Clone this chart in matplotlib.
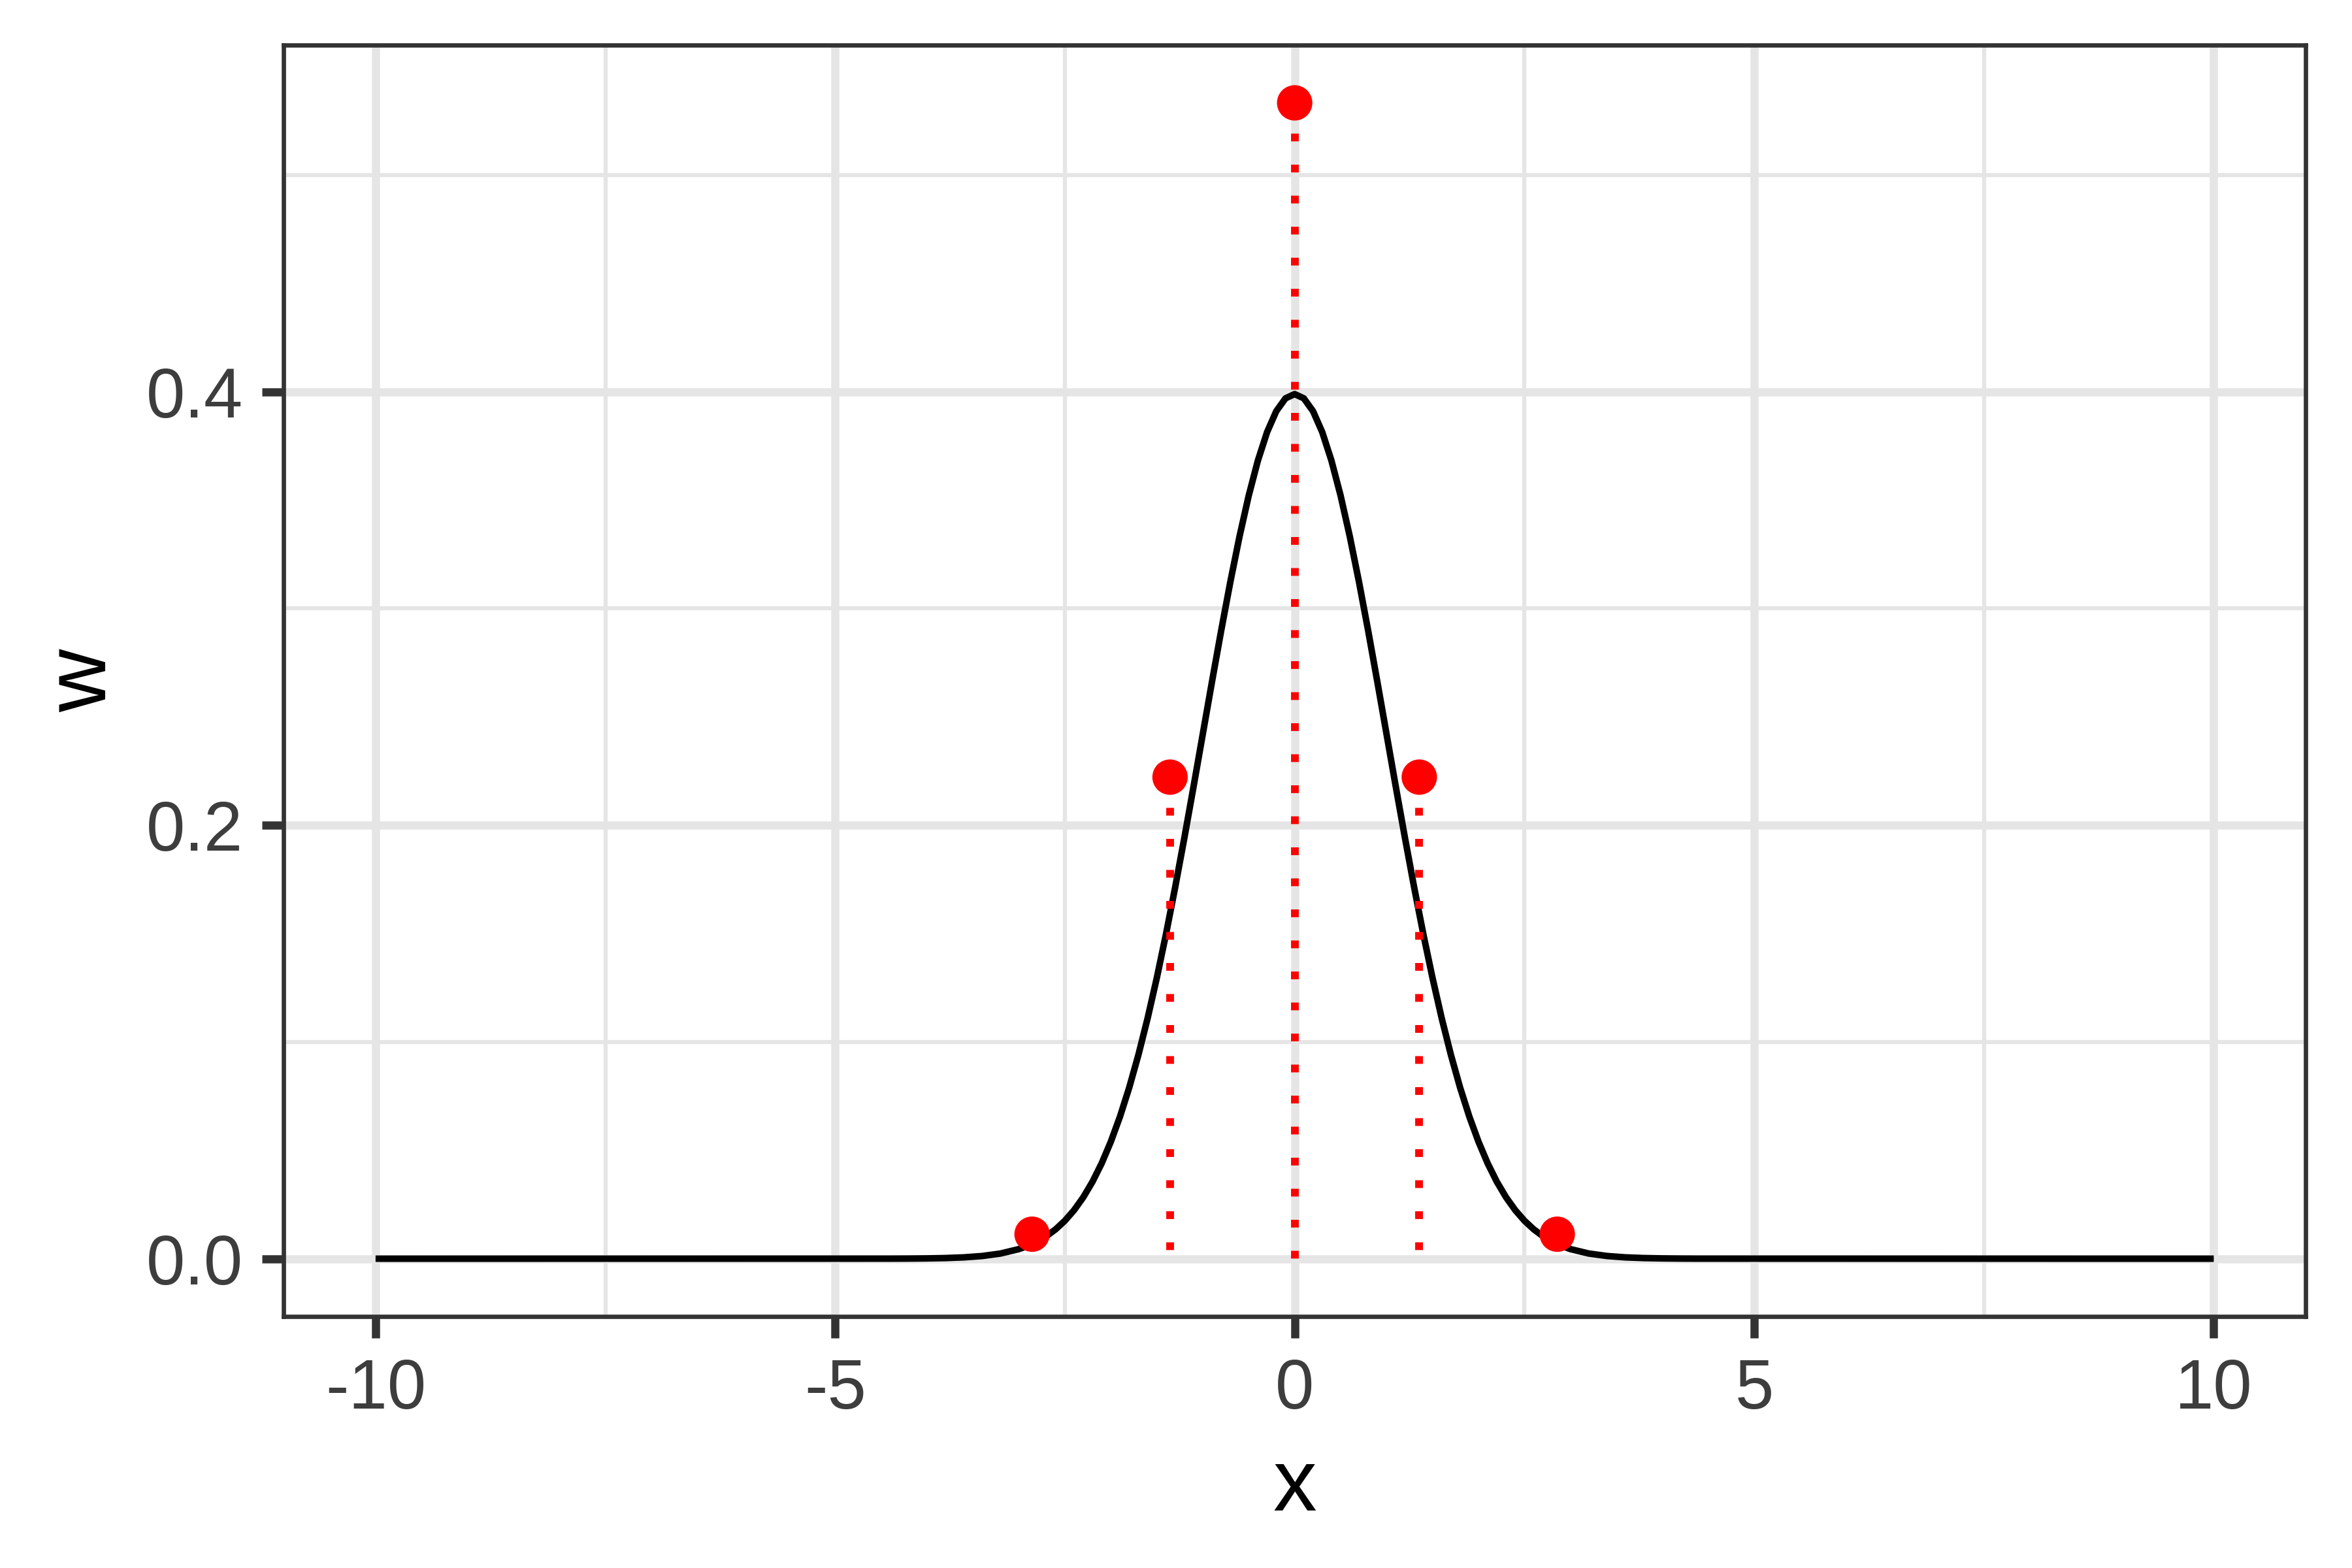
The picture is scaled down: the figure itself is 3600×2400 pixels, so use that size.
import matplotlib
matplotlib.use("Agg")
import matplotlib.pyplot as plt
from matplotlib.ticker import FixedLocator

# Curve values (standard normal density)
curve_x = [-10.0, -4.4, -4.2, -4.0, -3.8, -3.6, -3.4, -3.2,
           -3.0, -2.9, -2.8, -2.7, -2.6, -2.5, -2.4, -2.3, -2.2, -2.1,
           -2.0, -1.9, -1.8, -1.7, -1.6, -1.5, -1.4, -1.3, -1.2, -1.1,
           -1.0, -0.9, -0.8, -0.7, -0.6, -0.5, -0.4, -0.3, -0.2, -0.1,
           0.0,
           0.1, 0.2, 0.3, 0.4, 0.5, 0.6, 0.7, 0.8, 0.9, 1.0,
           1.1, 1.2, 1.3, 1.4, 1.5, 1.6, 1.7, 1.8, 1.9, 2.0,
           2.1, 2.2, 2.3, 2.4, 2.5, 2.6, 2.7, 2.8, 2.9, 3.0,
           3.2, 3.4, 3.6, 3.8, 4.0, 4.2, 4.4, 10.0]
curve_y = [0.0, 0.000025, 0.000059, 0.000134, 0.000292, 0.000612, 0.001232, 0.002384,
           0.004432, 0.005953, 0.007915, 0.010421, 0.013583, 0.017528, 0.022395,
           0.028327, 0.035475, 0.043984, 0.053991, 0.065616, 0.078950, 0.094049,
           0.110921, 0.129518, 0.149727, 0.171369, 0.194186, 0.217852, 0.241971,
           0.266085, 0.289692, 0.312254, 0.333225, 0.352065, 0.368270, 0.381388,
           0.391043, 0.396953,
           0.398942,
           0.396953, 0.391043, 0.381388, 0.368270, 0.352065, 0.333225, 0.312254,
           0.289692, 0.266085, 0.241971, 0.217852, 0.194186, 0.171369, 0.149727,
           0.129518, 0.110921, 0.094049, 0.078950, 0.065616, 0.053991, 0.043984,
           0.035475, 0.028327, 0.022395, 0.017528, 0.013583, 0.010421, 0.007915,
           0.005953, 0.004432,
           0.002384, 0.001232, 0.000612, 0.000292, 0.000134, 0.000059, 0.000025, 0.0]

# Quadrature nodes and weights
node_x = [-2.857, -1.356, 0.0, 1.356, 2.857]
node_w = [0.0113, 0.2222, 0.5333, 0.2222, 0.0113]

x_ticks = [-10, -5, 0, 5, 10]
x_tick_labels = ["-10", "-5", "0", "5", "10"]
y_ticks = [0.0, 0.2, 0.4]
y_tick_labels = ["0.0", "0.2", "0.4"]

plt.rcParams['font.family'] = ['Liberation Sans', 'DejaVu Sans']
plt.rcParams['axes.unicode_minus'] = False

fig = plt.figure(figsize=(12, 8), dpi=300)
ax = fig.add_axes([0.1206, 0.1604, 0.9803 - 0.1206, 0.9713 - 0.1604])

grid_col = '#E5E5E5'
ax.set_xlim(-11, 11)
ax.set_ylim(-0.02667, 0.56)

ax.xaxis.set_major_locator(FixedLocator(x_ticks))
ax.xaxis.set_minor_locator(FixedLocator([-7.5, -2.5, 2.5, 7.5]))
ax.yaxis.set_major_locator(FixedLocator(y_ticks))
ax.yaxis.set_minor_locator(FixedLocator([0.1, 0.3, 0.5]))
ax.set_xticklabels(x_tick_labels)
ax.set_yticklabels(y_tick_labels)

ax.grid(True, which='major', color=grid_col, linewidth=3.0, zorder=0)
ax.grid(True, which='minor', color=grid_col, linewidth=1.5, zorder=0)
ax.set_axisbelow(True)

ax.plot(curve_x, curve_y, color='black', linewidth=2.4, zorder=3,
        solid_capstyle='butt', solid_joinstyle='round')

for xv, wv in zip(node_x, node_w):
    ax.plot([xv, xv], [wv, 0], color='#FF0000', linewidth=2.85,
            linestyle=(0, (1, 3)), dash_capstyle='butt', zorder=4)
ax.scatter(node_x, node_w, s=13**2, color='#FF0000', edgecolors='none', zorder=5)

for sp in ax.spines.values():
    sp.set_color('#333333')
    sp.set_linewidth(1.6)

ax.tick_params(which='major', length=8, width=3.0, color='#333333',
               labelsize=25.6, labelcolor='#3D3D3D', pad=7)
ax.tick_params(which='minor', length=0, width=0)

ax.set_xlabel('x', fontsize=32, color='black', labelpad=9)
ax.set_ylabel('w', fontsize=32, color='black', labelpad=8)

fig.savefig('out.png', dpi=300)
